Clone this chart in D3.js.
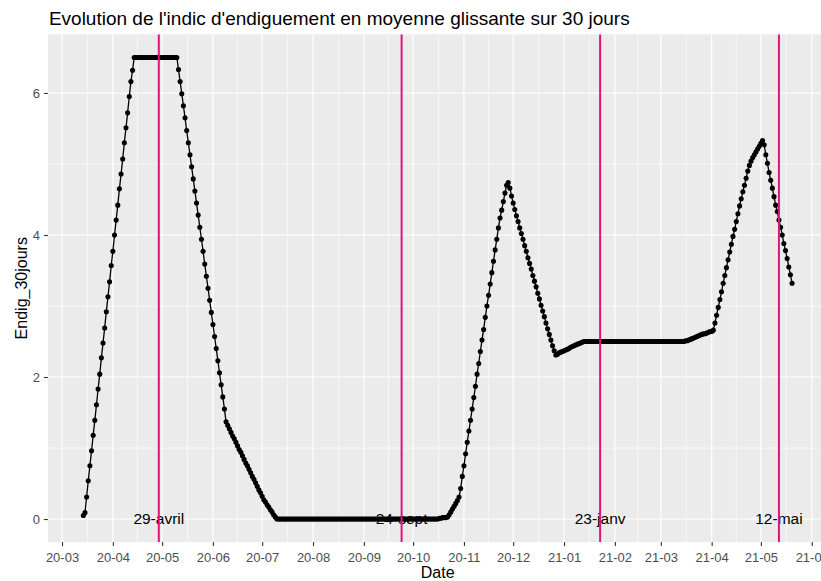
<!DOCTYPE html>
<html>
<head>
<meta charset="utf-8">
<script src="https://cdn.jsdelivr.net/npm/d3@7"></script>
<style>
  html, body { margin: 0; padding: 0; background: #fff; }
  svg text { font-family: "Liberation Sans", Arial, sans-serif; }
</style>
</head>
<body>
<div id="chart"></div>
<script>
// one value per day, starting at firstDay
const firstDay = "2020-03-14"
const endig30 = [
  0.05, 0.09,
  0.31, 0.54, 0.75, 0.96, 1.18, 1.39, 1.61, 1.83, 2.04, 2.27,
  2.48, 2.69, 2.92, 3.13, 3.34, 3.57, 3.77, 4.00, 4.21, 4.42,
  4.65, 4.86, 5.07, 5.30, 5.51, 5.72, 5.95, 6.16, 6.32,
  6.5, 6.5, 6.5, 6.5, 6.5, 6.5, 6.5, 6.5, 6.5, 6.5,
  6.5, 6.5, 6.5, 6.5, 6.5, 6.5, 6.5, 6.5, 6.5, 6.5,
  6.5, 6.5, 6.5, 6.5, 6.5, 6.5, 6.5,
  6.33, 6.16, 5.99, 5.82, 5.65, 5.47, 5.30, 5.13, 4.96, 4.79,
  4.62, 4.45, 4.28, 4.11, 3.94, 3.77, 3.59, 3.42, 3.25, 3.08,
  2.91, 2.74, 2.57, 2.40, 2.23, 2.06, 1.89, 1.72, 1.55, 1.37,
  1.32, 1.27, 1.22, 1.17, 1.13, 1.08, 1.03, 0.98, 0.94, 0.89,
  0.84, 0.79, 0.75, 0.70, 0.65, 0.60, 0.56, 0.51, 0.46, 0.41,
  0.37, 0.32,
  0.27, 0.24, 0.20, 0.17, 0.13, 0.10, 0.06, 0.03,
  0, 0, 0, 0, 0, 0, 0, 0, 0, 0,
  0, 0, 0, 0, 0, 0, 0, 0, 0, 0,
  0, 0, 0, 0, 0, 0, 0, 0, 0, 0,
  0, 0, 0, 0, 0, 0, 0, 0, 0, 0,
  0, 0, 0, 0, 0, 0, 0, 0, 0, 0,
  0, 0, 0, 0, 0, 0, 0, 0, 0, 0,
  0, 0, 0, 0, 0, 0, 0, 0, 0, 0,
  0, 0, 0, 0, 0, 0, 0, 0, 0, 0,
  0, 0, 0, 0, 0, 0, 0, 0, 0, 0,
  0, 0, 0, 0, 0, 0, 0, 0, 0,
  0.01, 0.01, 0.02, 0.02, 0.02, 0.03, 0.06, 0.10, 0.14, 0.18,
  0.22, 0.26, 0.31,
  0.43, 0.60, 0.75, 0.92, 1.08, 1.24, 1.39, 1.55, 1.71, 1.87,
  2.04, 2.19, 2.36, 2.52, 2.67, 2.84, 3.00, 3.15, 3.31, 3.47,
  3.63, 3.79, 3.94, 4.10, 4.24, 4.35, 4.47, 4.59, 4.70, 4.74,
  4.66, 4.55, 4.45, 4.36, 4.27, 4.19, 4.10, 4.02, 3.94, 3.85,
  3.77, 3.68, 3.60, 3.52, 3.43, 3.35, 3.27, 3.18, 3.10, 3.01,
  2.93, 2.85, 2.76, 2.68, 2.60, 2.52, 2.44, 2.37, 2.31,
  2.32, 2.34, 2.35, 2.36, 2.37, 2.38, 2.39, 2.40, 2.42, 2.43,
  2.44, 2.45, 2.46, 2.47, 2.48, 2.49, 2.50,
  2.5, 2.5, 2.5, 2.5, 2.5, 2.5, 2.5, 2.5, 2.5, 2.5,
  2.5, 2.5, 2.5, 2.5, 2.5, 2.5, 2.5, 2.5, 2.5, 2.5,
  2.5, 2.5, 2.5, 2.5, 2.5, 2.5, 2.5, 2.5, 2.5, 2.5,
  2.5, 2.5, 2.5, 2.5, 2.5, 2.5, 2.5, 2.5, 2.5, 2.5,
  2.5, 2.5, 2.5, 2.5, 2.5, 2.5, 2.5, 2.5, 2.5, 2.5,
  2.5, 2.5, 2.5, 2.5, 2.5, 2.5, 2.5, 2.5, 2.5, 2.5,
  2.50, 2.51, 2.51, 2.52, 2.53, 2.54, 2.55, 2.56, 2.57, 2.58,
  2.59, 2.60, 2.61, 2.61, 2.62, 2.63, 2.64, 2.64, 2.66,
  2.76, 2.87, 2.98, 3.09, 3.20, 3.32, 3.43, 3.54, 3.65, 3.76,
  3.87, 3.98, 4.08, 4.19, 4.30, 4.41, 4.51, 4.61, 4.70, 4.80,
  4.90, 4.98, 5.04, 5.09, 5.13, 5.17, 5.21, 5.25, 5.29, 5.33,
  5.27, 5.13, 5.01, 4.88, 4.77, 4.66, 4.54, 4.42, 4.33, 4.21,
  4.11, 4.00, 3.88, 3.78, 3.67, 3.55, 3.44, 3.32
]

const eventDates = ["2020-04-29", "2020-09-24", "2021-01-23", "2021-05-12"]
const eventLabels = ["29-avril", "24-sept", "23-janv", "12-mai"]
const yTicks = [0, 2, 4, 6]
const yMinor = [1, 3, 5]

const width = 821
const height = 581
const panel = {left: 47.9, right: 827.5, top: 34.4, bottom: 542.1}

const parseDay = d3.utcParse("%Y-%m-%d")
const start = parseDay(firstDay)
const points = endig30.map((v, i) => ({date: d3.utcDay.offset(start, i), value: v}))
const events = eventDates.map((d, i) => ({date: parseDay(d), label: eventLabels[i]}))

// ggplot-like 5% expansion on both axes
const [d0, d1] = d3.extent(points, d => d.date)
const padX = (d1 - d0) * 0.05
const x = d3.scaleUtc()
  .domain([new Date(+d0 - padX), new Date(+d1 + padX)])
  .range([panel.left, panel.right])

const [v0, v1] = d3.extent(points, d => d.value)
const padY = (v1 - v0) * 0.05
const y = d3.scaleLinear()
  .domain([v0 - padY, v1 + padY])
  .range([panel.bottom, panel.top])

const svg = d3.select("#chart").append("svg")
  .attr("width", width)
  .attr("height", height)

svg.append("rect")
  .attr("x", panel.left).attr("y", panel.top)
  .attr("width", panel.right - panel.left)
  .attr("height", panel.bottom - panel.top)
  .attr("fill", "#EBEBEB")

const months = d3.utcMonth.range(d3.utcMonth.ceil(x.domain()[0]), x.domain()[1])
const monthMinor = d3.pairs(months).map(([a, b]) => new Date((+a + +b) / 2))

const grid = svg.append("g").attr("stroke", "#fff")
grid.selectAll(".ymin").data(yMinor).join("line")
  .attr("x1", panel.left).attr("x2", panel.right)
  .attr("y1", d => y(d)).attr("y2", d => y(d))
  .attr("stroke-width", 0.6)
grid.selectAll(".xmin").data(monthMinor).join("line")
  .attr("x1", d => x(d)).attr("x2", d => x(d))
  .attr("y1", panel.top).attr("y2", panel.bottom)
  .attr("stroke-width", 0.6)
grid.selectAll(".ymaj").data(yTicks).join("line")
  .attr("x1", panel.left).attr("x2", panel.right)
  .attr("y1", d => y(d)).attr("y2", d => y(d))
  .attr("stroke-width", 1.2)
grid.selectAll(".xmaj").data(months).join("line")
  .attr("x1", d => x(d)).attr("x2", d => x(d))
  .attr("y1", panel.top).attr("y2", panel.bottom)
  .attr("stroke-width", 1.2)

// event labels sit at y = 0, under the series
svg.append("g")
  .selectAll("text")
  .data(events)
  .join("text")
  .attr("x", d => x(d.date))
  .attr("y", y(0))
  .attr("dy", "0.35em")
  .attr("text-anchor", "middle")
  .style("font-size", "15.5px")
  .style("fill", "#000")
  .text(d => d.label)

svg.append("path")
  .datum(points)
  .attr("fill", "none")
  .attr("stroke", "#000")
  .attr("stroke-width", 1.3)
  .attr("d", d3.line().x(d => x(d.date)).y(d => y(d.value)))

svg.append("g")
  .selectAll("circle")
  .data(points)
  .join("circle")
  .attr("cx", d => x(d.date))
  .attr("cy", d => y(d.value))
  .attr("r", 2.55)
  .attr("fill", "#000")

svg.append("g")
  .selectAll("line")
  .data(events)
  .join("line")
  .attr("x1", d => x(d.date)).attr("x2", d => x(d.date))
  .attr("y1", panel.top).attr("y2", panel.bottom)
  .attr("stroke", "#E3127F")
  .attr("stroke-width", 2)

const xAxis = svg.append("g")
  .attr("transform", `translate(0,${panel.bottom})`)
  .call(d3.axisBottom(x).tickValues(months).tickFormat(d3.utcFormat("%y-%m")).tickSize(4).tickPadding(7))
const yAxis = svg.append("g")
  .attr("transform", `translate(${panel.left},0)`)
  .call(d3.axisLeft(y).tickValues(yTicks).tickSize(4).tickPadding(4))

for (const ax of [xAxis, yAxis]) {
  ax.select(".domain").remove()
  ax.selectAll(".tick line").attr("stroke", "#333").attr("stroke-width", 1.1)
  ax.selectAll(".tick text")
    .style("font-size", "13px")
    .style("fill", "#4D4D4D")
    .style("font-family", "'Liberation Sans', Arial, sans-serif")
}

svg.append("text")
  .attr("x", (panel.left + panel.right) / 2)
  .attr("y", 578)
  .attr("text-anchor", "middle")
  .style("font-size", "16px")
  .text("Date")

svg.append("text")
  .attr("transform", `translate(27,${(panel.top + panel.bottom) / 2}) rotate(-90)`)
  .attr("text-anchor", "middle")
  .style("font-size", "16px")
  .text("Endig_30jours")

svg.append("text")
  .attr("x", panel.left + 1)
  .attr("y", 25)
  .style("font-size", "19px")
  .text("Evolution de l'indic d'endiguement en moyenne glissante sur 30 jours")
</script>
</body>
</html>
